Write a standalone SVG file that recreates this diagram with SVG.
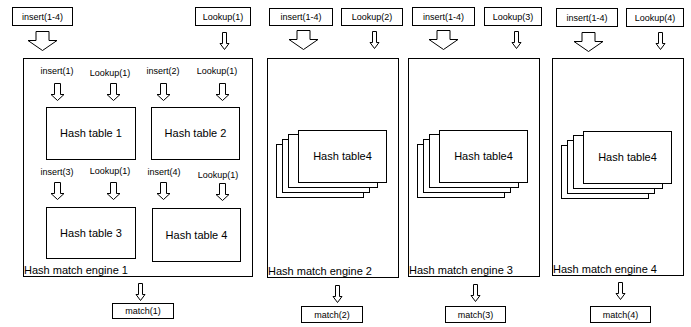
<svg xmlns="http://www.w3.org/2000/svg" xmlns:xlink="http://www.w3.org/1999/xlink" width="691" height="327" viewBox="0 0 691 327">
<style>
rect{fill:#fff;stroke:#000;stroke-width:1}
.a{fill:#fff;stroke:#000;stroke-width:1}
text{font-family:"Liberation Sans",Arial,sans-serif;fill:#000}
.s{font-size:9px}
.m{font-size:11px}
.c{text-anchor:middle}
</style>
<defs>
<path id="big" d="M-6.5,0 H6.5 V9 H14.5 L0,19 L-14.5,9 H-6.5 Z"/>
<path id="sm" d="M-2,0 H2 V11 H4.5 L0,17 L-4.5,11 H-2 Z"/>
<path id="in" d="M-3,0 H3 V11 H6.5 L0,17 L-6.5,11 H-3 Z"/>
</defs>
<rect width="691" height="327" style="fill:#fff;stroke:none"/>

<g id="engine1">
<rect x="23.5" y="58.5" width="229" height="218"/>
<text class="m" x="24" y="274">Hash match engine 1</text>
<text class="s c" x="57" y="74">insert(1)</text>
<text class="s c" x="110" y="76">Lookup(1)</text>
<text class="s c" x="163" y="74">insert(2)</text>
<text class="s c" x="217" y="74">Lookup(1)</text>
<text class="s c" x="57" y="175">insert(3)</text>
<text class="s c" x="110" y="174">Lookup(1)</text>
<text class="s c" x="164" y="175">insert(4)</text>
<text class="s c" x="218" y="178">Lookup(1)</text>
</g>
<g id="ht1"><rect x="46.5" y="107.5" width="89" height="52"/><text class="m c" x="91" y="137">Hash table 1</text></g>
<g id="ht2"><rect x="151.5" y="107.5" width="88" height="52"/><text class="m c" x="195.5" y="137">Hash table 2</text></g>
<g id="ht3"><rect x="46.5" y="207.5" width="89" height="51"/><text class="m c" x="91" y="237">Hash table 3</text></g>
<g id="ht4"><rect x="152.5" y="208.5" width="88" height="53"/><text class="m c" x="196.5" y="239">Hash table 4</text></g>

<g id="engine2">
<rect x="267.5" y="58.5" width="131" height="219"/>
<text class="m" x="268" y="275">Hash match engine 2</text>
<rect x="276.5" y="144.5" width="87" height="53"/>
<rect x="282.5" y="139.5" width="87" height="53"/>
<rect x="288.5" y="134.5" width="89" height="53"/>
<rect x="298.5" y="130.5" width="88" height="52"/>
<text class="m c" x="342.5" y="160">Hash table4</text>
</g>
<g id="engine3">
<rect x="408.5" y="58.5" width="131" height="218"/>
<text class="m" x="409" y="274">Hash match engine 3</text>
<rect x="417.5" y="144.5" width="87" height="53"/>
<rect x="423.5" y="139.5" width="87" height="53"/>
<rect x="429.5" y="134.5" width="89" height="53"/>
<rect x="439.5" y="130.5" width="88" height="52"/>
<text class="m c" x="483.5" y="160">Hash table4</text>
</g>
<g id="engine4">
<rect x="552.5" y="58.5" width="131" height="217"/>
<text class="m" x="553" y="273">Hash match engine 4</text>
<rect x="561.5" y="145.5" width="87" height="53"/>
<rect x="567.5" y="140.5" width="87" height="53"/>
<rect x="573.5" y="135.5" width="89" height="53"/>
<rect x="583.5" y="131.5" width="88" height="52"/>
<text class="m c" x="627.5" y="161">Hash table4</text>
</g>

<g id="inputs1">
<rect x="12.5" y="7.5" width="60" height="18"/><text class="s c" x="42.5" y="20">insert(1-4)</text>
<rect x="195.5" y="7.5" width="55" height="18"/><text class="s c" x="223" y="20">Lookup(1)</text>
</g>
<g id="inputs2">
<rect x="269.5" y="8.5" width="63" height="17"/><text class="s c" x="301" y="20">insert(1-4)</text>
<rect x="341.5" y="8.5" width="61" height="17"/><text class="s c" x="372" y="20">Lookup(2)</text>
</g>
<g id="inputs3">
<rect x="412.5" y="7.5" width="62" height="18"/><text class="s c" x="443.5" y="20">insert(1-4)</text>
<rect x="484.5" y="7.5" width="57" height="18"/><text class="s c" x="513" y="20">Lookup(3)</text>
</g>
<g id="inputs4">
<rect x="556.5" y="8.5" width="61" height="18"/><text class="s c" x="587" y="21">insert(1-4)</text>
<rect x="626.5" y="8.5" width="57" height="18"/><text class="s c" x="655" y="21">Lookup(4)</text>
</g>

<g id="match1"><rect x="112.5" y="303.5" width="61" height="15"/><text class="s c" x="143" y="314">match(1)</text></g>
<g id="match2"><rect x="301.5" y="306.5" width="61" height="16"/><text class="s c" x="332" y="317.5">match(2)</text></g>
<g id="match3"><rect x="445.5" y="306.5" width="60" height="16"/><text class="s c" x="475.5" y="317.5">match(3)</text></g>
<g id="match4"><rect x="590.5" y="306.5" width="60" height="16"/><text class="s c" x="620.5" y="317.5">match(4)</text></g>

<g id="connectors" class="a">
<use xlink:href="#big" transform="translate(42.5,31.5)"/>
<use xlink:href="#sm" transform="translate(224.5,32.5)"/>
<use xlink:href="#big" transform="translate(303.5,30.5)"/>
<use xlink:href="#sm" transform="translate(374.5,31.5)"/>
<use xlink:href="#big" transform="translate(443.5,30.5)"/>
<use xlink:href="#sm" transform="translate(516.5,31.5)"/>
<use xlink:href="#big" transform="translate(588.5,32.5)"/>
<use xlink:href="#sm" transform="translate(660.5,32.5)"/>
<use xlink:href="#in" transform="translate(57.5,83.5)"/>
<use xlink:href="#in" transform="translate(113.5,83.5)"/>
<use xlink:href="#in" transform="translate(163.5,83.5)"/>
<use xlink:href="#in" transform="translate(222.5,83.5)"/>
<use xlink:href="#in" transform="translate(57.5,182.5)"/>
<use xlink:href="#in" transform="translate(113.5,182.5)"/>
<use xlink:href="#in" transform="translate(163.5,182.5)"/>
<use xlink:href="#in" transform="translate(222.5,183.5)"/>
<use xlink:href="#sm" transform="translate(140.5,283.5)"/>
<use xlink:href="#sm" transform="translate(337.5,285.5)"/>
<use xlink:href="#sm" transform="translate(475.5,284.5)"/>
<use xlink:href="#sm" transform="translate(620.5,282.5)"/>
</g>
</svg>
